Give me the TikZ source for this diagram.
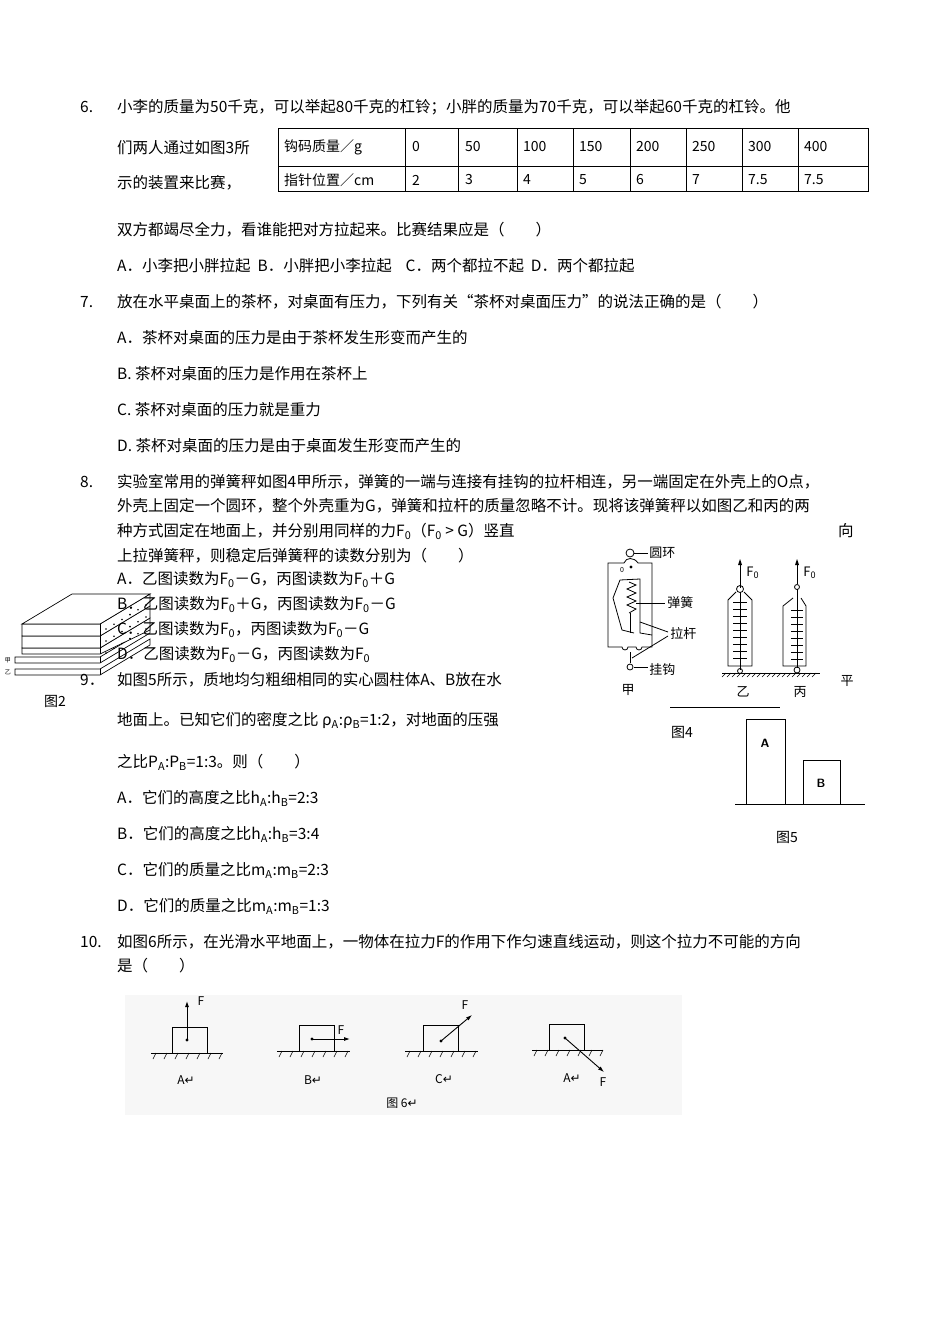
\documentclass[tikz,border=0pt]{standalone}
\usepackage{fontspec}
\setmainfont{Noto Sans CJK SC}
\newfontfamily\djv{DejaVu Sans}
\usetikzlibrary{arrows.meta}
\tikzset{
 txt/.style={anchor=west,inner sep=0pt,font=\fontsize{15.5}{17}\selectfont},
 sm/.style={inner sep=0pt,font=\fontsize{13}{15}\selectfont},
 thin/.style={line width=0.9pt},
 farrow/.style={line width=0.9pt,-{Latex[length=6pt,width=4pt]}},
}
\newcommand{\rt}{{\djv ↵}}
\begin{document}
\begin{tikzpicture}[x=1pt,y=-1pt]
\useasboundingbox[fill=white] (0,0) rectangle (950,1344);
% Q6
\node[txt] (n6) at (80,107) {6.};
\node[txt] (q6a) at (117,107) {小李的质量为50千克，可以举起80千克的杠铃；小胖的质量为70千克，可以举起60千克的杠铃。他};
\node[txt] (q6b) at (117,148) {们两人通过如图3所};
\node[txt] (q6c) at (117,183) {示的装置来比赛，};
\draw[thin] (278,128) rectangle (868,191);
\draw[thin] (278,166)--(868,166);
\foreach \cx in {405,458,517,573,630,686,742,798}{\draw[thin] (\cx,128)--(\cx,191);}
\foreach \t/\cx in {钩码质量／g/284,0/412,50/465,100/523,150/579,200/636,250/692,300/748,400/804}{\node[txt,font=\fontsize{14}{16}\selectfont] at (\cx,147) {\t};}
\foreach \t/\cx in {指针位置／cm/284,2/412,3/465,4/523,5/579,6/636,7/692,7.5/748,7.5/804}{\node[txt,font=\fontsize{14}{16}\selectfont] at (\cx,180) {\t};}
\node[txt] (q6d) at (117,230) {双方都竭尽全力，看谁能把对方拉起来。比赛结果应是（　　）};
\node[txt] (q6e) at (117,266) {A．小李把小胖拉起\ \ B．小胖把小李拉起\ \ \ \ C．两个都拉不起\ \ D．两个都拉起};
% Q7
\node[txt] (n7) at (80,302) {7.};
\node[txt] (q7) at (117,302) {放在水平桌面上的茶杯，对桌面有压力，下列有关“茶杯对桌面压力”的说法正确的是（　　）};
\node[txt] at (117,338) {A．茶杯对桌面的压力是由于茶杯发生形变而产生的};
\node[txt] at (117,374) {B.\ 茶杯对桌面的压力是作用在茶杯上};
\node[txt] at (117,410) {C.\ 茶杯对桌面的压力就是重力};
\node[txt] at (117,446) {D.\ 茶杯对桌面的压力是由于桌面发生形变而产生的};
% Q8
\node[txt] (n8) at (80,482) {8.};
\node[txt] at (117,482) {实验室常用的弹簧秤如图4甲所示，弹簧的一端与连接有挂钩的拉杆相连，另一端固定在外壳上的O点，};
\node[txt] at (117,506) {外壳上固定一个圆环，整个外壳重为G，弹簧和拉杆的质量忽略不计。现将该弹簧秤以如图乙和丙的两};
\node[txt] at (117,531) {种方式固定在地面上，并分别用同样的力F\textsubscript{0}（F\textsubscript{0} > G）竖直};
\node[txt] at (838,531) {向};
\node[txt] at (117,556) {上拉弹簧秤，则稳定后弹簧秤的读数分别为（　　）};
\node[txt] at (117,580) {A．乙图读数为F\textsubscript{0}－G，丙图读数为F\textsubscript{0}＋G};
% Fig 2 plates
\begin{scope}[line width=0.7pt]
 \draw[fill=white] (15,669)--(100,669)--(150,639)--(150,645)--(100,675)--(15,675)--cycle; \draw (100,669)--(100,675);
 \draw[fill=white] (15,657)--(100,657)--(150,627)--(150,633)--(100,663)--(15,663)--cycle; \draw (100,657)--(100,663);
 \draw[fill=white] (22,648)--(100,648)--(150,618)--(150,630)--(100,654)--(22,654)--cycle; \draw (100,648)--(100,654);
 \draw[fill=white] (22,636)--(100,636)--(150,606)--(150,618)--(100,648)--(22,648)--cycle; \draw (100,636)--(100,648);
 \draw[fill=white] (22,624)--(100,624)--(150,594)--(150,606)--(100,636)--(22,636)--cycle; \draw (100,624)--(100,636);
 \draw[fill=white] (22,624)--(100,624)--(150,594)--(72,594)--cycle;
 \foreach \dy in {0,12,24}{\foreach \dd in {0,8,...,40}{\fill (106+\dd,629-\dd*0.6+\dy) circle(0.9);}}
\end{scope}
\node[sm,font=\fontsize{6}{7}\selectfont] at (8,660) {甲};
\node[sm,font=\fontsize{6}{7}\selectfont] at (8,672) {乙};
\node[txt] at (117,605) {B．乙图读数为F\textsubscript{0}＋G，丙图读数为F\textsubscript{0}－G};
\node[txt] at (117,630) {C．乙图读数为F\textsubscript{0}，丙图读数为F\textsubscript{0}－G};
\node[txt] at (117,655) {D．乙图读数为F\textsubscript{0}－G，丙图读数为F\textsubscript{0}};
\node[sm,font=\fontsize{14}{16}\selectfont] (f2) at (55,701) {图2};
% Q9
\node[txt] (n9) at (80,680) {9．};
\node[txt] at (117,680) {如图5所示，质地均匀粗细相同的实心圆柱体A、B放在水};
\node[txt] at (117,720) {地面上。已知它们的密度之比 ρ\textsubscript{A}:ρ\textsubscript{B}=1:2，对地面的压强};
\node[txt] at (117,762) {之比P\textsubscript{A}:P\textsubscript{B}=1:3。则（　　）};
\node[txt] at (117,798) {A．它们的高度之比h\textsubscript{A}:h\textsubscript{B}=2:3};
\node[txt] at (117,834) {B．它们的高度之比h\textsubscript{A}:h\textsubscript{B}=3:4};
\node[txt] at (117,870) {C．它们的质量之比m\textsubscript{A}:m\textsubscript{B}=2:3};
\node[txt] at (117,906) {D．它们的质量之比m\textsubscript{A}:m\textsubscript{B}=1:3};
% Fig 4 jia
\begin{scope}[line width=0.8pt]
 \draw (624,563)--(608,563)--(608,647)--(622,647) arc(180:0:3) -- (636,647) arc(180:0:3)--(652,647)--(652,563)--(638,563);
 \draw (630,553) circle(4);
 \draw (624,563) .. controls (626,557) and (634,557) .. (638,563);
 \fill (631,567) circle(1.6);
 \node[sm,font=\fontsize{7}{8}\selectfont] at (622,570) {0};
 \draw (620,580)--(640,579)--(640,633)--(652,635);
 \draw (620,580)--(613,598)--(622,630)--(634,633);
 \draw (629,582)--(636,585)--(627,589)--(636,593)--(627,597)--(636,601)--(627,605)--(636,609)--(629,613);
 \draw (630,613)--(630,633);
 \draw (630,652)--(630,663);
 \draw (630,667) circle(3);
 \draw (634,553)--(648,553); \node[sm,anchor=west] (yh) at (649,553) {圆环};
 \draw (636,603)--(665,603); \node[sm,anchor=west] (th) at (667,603) {弹簧};
 \draw (640,622)--(668,632); \draw (632,658)--(668,636); \node[sm,anchor=west] (lg) at (670,633) {拉杆};
 \draw (634,667)--(648,667); \node[sm,anchor=west] (gg) at (649,670) {挂钩};
 \node[sm] at (628,690) {甲};
 % yi
 \draw (740,588)--(740,562); \fill (740,559)--(738,565)--(742,565)--cycle;
 \node[sm,anchor=west] at (746,573) {F\textsubscript{0}};
 \draw (740,589) circle(3.5);
 \draw (736,592)--(728,600)--(728,666)--(752,666)--(752,600)--(744,592);
 \draw (740,592)--(740,670);
 \foreach \ty in {602,609,...,660}{\draw (733,\ty)--(747,\ty);}
 \draw (740,671) circle(2.5);
 % bing
 \draw (797,584)--(797,562); \fill (797,559)--(795,565)--(799,565)--cycle;
 \node[sm,anchor=west] at (803,573) {F\textsubscript{0}};
 \draw (797,587) circle(2.5);
 \draw (793,598)--(783,606)--(783,666)--(806,666)--(806,606)--(801,598);
 \draw (797,589)--(797,668);
 \foreach \ty in {610,617,...,660}{\draw (791,\ty)--(803,\ty);}
 \draw (797,670) circle(3);
\end{scope}
\draw[thin] (722,673)--(820,673);
\foreach \gx in {726,731,...,820}{\draw[line width=0.5pt] (\gx,673)--(\gx-4,677);}
\node[sm] at (743,692) {乙};
\node[sm] at (800,692) {丙};
\node[sm] at (847,681) {平};
\draw[line width=0.7pt] (670,707)--(780,707);
\node[sm,font=\fontsize{14}{16}\selectfont] (f4) at (682,732) {图4};
% Fig 5
\draw[thin] (746,804)--(746,719)--(785,719)--(785,804);
\draw[thin] (803,804)--(803,760)--(840,760)--(840,804);
\draw[thin] (735,804)--(865,804);
\node[sm,font=\sffamily\bfseries\fontsize{12}{14}\selectfont] at (765,743) {A};
\node[sm,font=\sffamily\bfseries\fontsize{12}{14}\selectfont] at (821,783) {B};
\node[sm,font=\fontsize{14}{16}\selectfont] (f5) at (787,837) {图5};
% Q10
\node[txt] (n10) at (80,942) {10.};
\node[txt] at (117,942) {如图6所示，在光滑水平地面上，一物体在拉力F的作用下作匀速直线运动，则这个拉力不可能的方向};
\node[txt] at (117,966) {是（　　）};
% Fig 6
\fill[black!3] (125,995) rectangle (682,1115);
\foreach \bx/\by/\gl/\gr in {172/1027/151/223, 299/1025/277/350, 423/1025/405/478, 549/1024/532/603}{
 \pgfmathsetmacro{\gb}{\by+26}
 \draw[thin] (\bx,\gb)--(\bx,\by)--(\bx+35,\by)--(\bx+35,\gb);
 \draw[thin] (\gl,\gb)--(\gr,\gb);
 \foreach \gx in {0,1,...,6}{\draw[line width=0.6pt] (\gl+5+\gx*11,\gb)--(\gl+2+\gx*11,\gb+6);}
}
\fill (187,1040) circle(1.6); \draw[farrow] (187,1040)--(187,1001);
\node[sm,font=\rmfamily\itshape\fontsize{12}{12}\selectfont] at (201,1001) {F};
\fill (312,1039) circle(1.6); \draw[farrow] (312,1039)--(350,1039);
\node[sm,font=\itshape\fontsize{12}{12}\selectfont] at (341,1030) {F};
\fill (441,1041) circle(1.6); \draw[farrow] (441,1041)--(472,1015);
\node[sm,font=\itshape\fontsize{12}{12}\selectfont] at (465,1005) {F};
\fill (565,1038) circle(1.6); \draw[farrow] (565,1038)--(604,1072);
\node[sm,font=\itshape\fontsize{12}{12}\selectfont] at (603,1082) {F};
\node[sm,font=\fontsize{12}{12}\selectfont] at (186,1080) {A\rt};
\node[sm,font=\fontsize{12}{12}\selectfont] at (313,1080) {B\rt};
\node[sm,font=\fontsize{12}{12}\selectfont] at (444,1079) {C\rt};
\node[sm,font=\fontsize{12}{12}\selectfont] at (572,1078) {A\rt};
\node[sm,font=\fontsize{12}{12}\selectfont] (f6) at (402,1103) {图 6\rt};
\end{tikzpicture}
\end{document}
